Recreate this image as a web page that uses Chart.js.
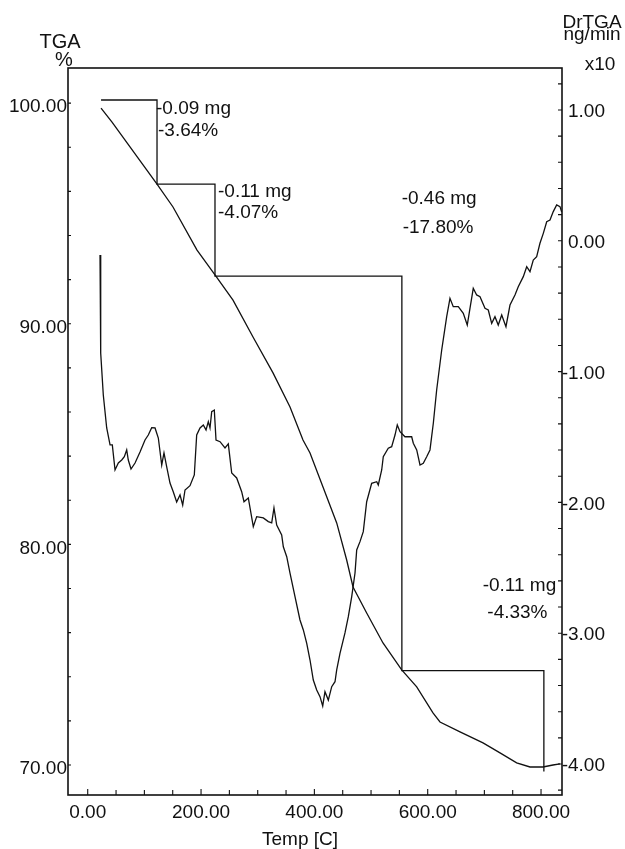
<!DOCTYPE html>
<html>
<head>
<meta charset="utf-8">
<script src="https://cdn.jsdelivr.net/npm/chart.js@4.4.0/dist/chart.umd.min.js"></script>
<style>
  html, body { margin: 0; padding: 0; background: #fff; }
  canvas { display: block; }
</style>
</head>
<body>
<canvas id="tga" width="625" height="849"></canvas>
<script>
// TGA curve, left axis (%)
const tgaTemp = [23.5, 42.9, 122.3, 150.5, 192.9, 224.6, 256.4, 291.7, 327.0, 357.0, 379.9, 392.3, 415.2, 439.4, 457.0,
  468.2, 492.3, 521.1, 554.1, 580.6, 609.3, 621.7, 657.0, 697.6, 727.6, 757.0, 780.5, 803.4, 821.1, 833.4];
const tgaPct = [99.77, 99.14, 96.33, 95.29, 93.34, 92.21, 91.07, 89.40, 87.77, 86.23, 84.73, 84.14, 82.60, 80.97, 79.29,
  78.07, 76.89, 75.53, 74.31, 73.54, 72.36, 71.95, 71.50, 71.00, 70.55, 70.10, 69.91, 69.91, 70.00, 70.05];

// DrTGA curve, right axis (x10 ng/min)
const dtgTemp = [21.7, 22.9, 27.5, 33.5, 39.4, 43.4, 48.2, 54.0, 60.0, 64.6,
  68.8, 71.6, 76.4, 83.5, 92.3, 101.1, 106.9, 112.9, 118.8, 124.6,
  130.6, 134.6, 139.4, 145.2, 151.1, 157.0, 162.9, 167.6, 171.7, 180.5,
  188.1, 192.3, 198.2, 204.0, 208.8, 212.8, 215.8, 218.8, 223.4, 226.4,
  233.5, 242.3, 248.1, 254.1, 262.9, 271.7, 275.8, 283.4, 292.2, 298.2,
  309.9, 318.7, 324.7, 328.7, 333.5, 342.3, 345.2, 351.2, 357.0, 365.8,
  374.6, 380.5, 386.5, 392.3, 398.1, 404.1, 409.9, 414.7, 418.7, 424.6,
  430.6, 436.4, 439.4, 445.2, 454.0, 459.9, 465.9, 471.7, 474.7, 480.5,
  486.3, 492.3, 501.1, 510.0, 512.8, 518.8, 521.6, 530.4, 536.4, 542.3,
  546.3, 551.1, 559.9, 571.7, 574.6, 580.6, 586.4, 592.2, 598.2, 604.0,
  609.9, 615.8, 624.7, 633.5, 639.3, 645.1, 654.0, 662.8, 669.8, 674.6,
  680.4, 686.4, 692.3, 701.1, 706.9, 712.9, 718.7, 724.5, 730.6, 738.1,
  745.2, 754.0, 759.8, 768.7, 774.7, 780.5, 786.3, 792.3, 798.1, 804.0,
  810.0, 815.8, 821.6, 827.6, 833.4, 836.5];
const dtgVal = [-0.109, -0.858, -1.179, -1.431, -1.561, -1.561, -1.752, -1.699, -1.676, -1.651,
  -1.599, -1.676, -1.745, -1.699, -1.615, -1.523, -1.485, -1.429, -1.431, -1.508,
  -1.714, -1.622, -1.729, -1.852, -1.920, -1.997, -1.943, -2.020, -1.905, -1.872,
  -1.790, -1.485, -1.431, -1.408, -1.446, -1.383, -1.431, -1.307, -1.294, -1.523,
  -1.536, -1.584, -1.553, -1.775, -1.813, -1.918, -1.995, -1.966, -2.186, -2.109,
  -2.119, -2.147, -2.157, -2.043, -2.173, -2.249, -2.339, -2.415, -2.540, -2.721,
  -2.899, -2.975, -3.077, -3.205, -3.358, -3.434, -3.485, -3.556, -3.447, -3.511,
  -3.409, -3.371, -3.281, -3.154, -2.998, -2.874, -2.721, -2.540, -2.364, -2.300,
  -2.224, -1.995, -1.854, -1.842, -1.867, -1.752, -1.651, -1.586, -1.574, -1.485,
  -1.408, -1.459, -1.498, -1.498, -1.548, -1.599, -1.714, -1.701, -1.651, -1.599,
  -1.395, -1.141, -0.835, -0.580, -0.440, -0.504, -0.504, -0.554, -0.644, -0.516,
  -0.363, -0.414, -0.427, -0.516, -0.529, -0.631, -0.580, -0.644, -0.567, -0.657,
  -0.491, -0.414, -0.351, -0.274, -0.198, -0.236, -0.147, -0.122, -0.019, 0.057,
  0.146, 0.159, 0.223, 0.274, 0.261, 0.220];

// step analysis lines (left axis)
const stepTemp = [23.5, 122.3, 122.3, 224.6, 224.6, 554.4, 554.4, 805.0, 805.0];
const stepPct = [100.14, 100.14, 96.33, 96.33, 92.16, 92.16, 74.28, 74.28, 69.70];

// step notes, anchored at (temp, %)
const noteText = ['-0.09 mg', '-3.64%', '-0.11 mg', '-4.07%', '-0.46 mg', '-17.80%', '-0.11 mg', '-4.33%'];
const noteTemp = [120.5, 124.0, 229.9, 229.9, 554.1, 555.8, 697.0, 705.2];
const notePct = [99.74, 98.73, 95.97, 95.02, 95.65, 94.35, 78.12, 76.91];

const FONT = "'Liberation Sans', Arial, sans-serif";
const INK = '#111';

const pts = (xs, ys) => xs.map((x, i) => ({x: x, y: ys[i]}));
const range = (a, b, s) => { const r = []; for (let k = a; k <= b; k++) r.push(k * s); return r; };

// frame, inward tick marks, headers and notes
const extras = {
  id: 'extras',
  afterDraw(chart) {
    const {ctx, chartArea: a, scales} = chart;
    ctx.save();
    ctx.strokeStyle = INK;
    ctx.fillStyle = INK;
    ctx.lineWidth = 1.6;
    ctx.strokeRect(a.left, a.top, a.right - a.left, a.bottom - a.top);

    ctx.lineWidth = 1.1;
    ctx.beginPath();
    scales.x.ticks.forEach(t => {
      const px = scales.x.getPixelForValue(t.value);
      const len = t.value % 200 === 0 ? 6 : 5;
      ctx.moveTo(px, a.bottom); ctx.lineTo(px, a.bottom - len);
    });
    scales.y.ticks.forEach(t => {
      const py = scales.y.getPixelForValue(t.value);
      ctx.moveTo(a.left, py); ctx.lineTo(a.left + 3, py);
    });
    scales.y1.ticks.forEach(t => {
      const py = scales.y1.getPixelForValue(t.value);
      ctx.moveTo(a.right, py); ctx.lineTo(a.right - 4, py);
    });
    ctx.stroke();

    ctx.textBaseline = 'middle';
    ctx.textAlign = 'left';
    ctx.font = '19px ' + FONT;
    noteText.forEach((s, i) => {
      ctx.fillText(s, scales.x.getPixelForValue(noteTemp[i]), scales.y.getPixelForValue(notePct[i]));
    });

    ctx.textBaseline = 'alphabetic';
    ctx.textAlign = 'center';
    ctx.font = '20px ' + FONT;
    ctx.fillText('TGA', 60, 48);
    ctx.fillText('%', 64, 66);
    ctx.font = '19px ' + FONT;
    ctx.fillText('DrTGA', 592, 28);
    ctx.fillText('ng/min', 592, 40);
    ctx.fillText('x10', 600, 70);
    ctx.fillText('Temp [C]', 300, 845);
    ctx.restore();
  }
};

const line = (data, axis) => ({
  data: data, yAxisID: axis, borderColor: INK, borderWidth: 1.3,
  pointRadius: 0, tension: 0, fill: false
});

new Chart(document.getElementById('tga'), {
  type: 'line',
  data: {
    datasets: [
      line(pts(tgaTemp, tgaPct), 'y'),
      line(pts(dtgTemp, dtgVal), 'y1'),
      line(pts(stepTemp, stepPct), 'y')
    ]
  },
  options: {
    responsive: false,
    animation: false,
    devicePixelRatio: 1,
    layout: {padding: {top: 68, left: 0, right: 20, bottom: 0}},
    plugins: {legend: {display: false}, tooltip: {enabled: false}},
    scales: {
      x: {
        type: 'linear', position: 'bottom', min: -34.8, max: 837,
        grid: {display: false, drawTicks: false}, border: {display: false},
        afterBuildTicks: s => { s.ticks = range(0, 16, 50).map(v => ({value: v})); },
        afterFit: s => { s.height = 54; },
        ticks: {
          autoSkip: false, maxRotation: 0, padding: 6, color: INK,
          font: {family: FONT, size: 19},
          callback: v => v % 200 === 0 ? v.toFixed(2) : ''
        }
      },
      y: {
        type: 'linear', position: 'left', min: 68.64, max: 101.59,
        grid: {display: false, drawTicks: false}, border: {display: false},
        afterBuildTicks: s => { s.ticks = range(35, 50, 2).map(v => ({value: v})); },
        afterFit: s => { s.width = 68; },
        ticks: {
          autoSkip: false, padding: 1, labelOffset: 4, color: INK,
          font: {family: FONT, size: 19},
          callback: v => v % 10 === 0 ? v.toFixed(2) : ''
        }
      },
      y1: {
        type: 'linear', position: 'right', min: -4.237, max: 1.321,
        grid: {display: false, drawTicks: false}, border: {display: false},
        afterBuildTicks: s => { s.ticks = range(-21, 6, 0.2).map(v => ({value: Math.round(v * 10) / 10})); },
        afterFit: s => { s.width = 43; },
        ticks: {
          autoSkip: false, padding: 0, labelOffset: 2, crossAlign: 'far', color: INK,
          font: {family: FONT, size: 19},
          callback: v => Number.isInteger(v) ? v.toFixed(2) : ''
        }
      }
    }
  },
  plugins: [extras]
});
</script>
</body>
</html>
